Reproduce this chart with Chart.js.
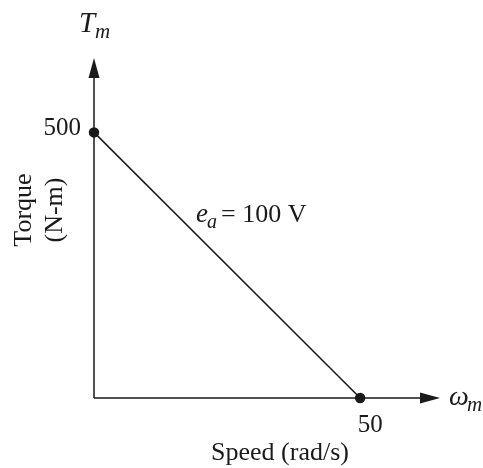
<!DOCTYPE html>
<html lang="en">
<head>
  <meta charset="UTF-8">
  <title>Torque-Speed</title>
  <style>
    html, body { margin: 0; padding: 0; background: #fff; }
    #wrap { width: 483px; height: 468px; }
  </style>
  <script src="https://cdn.jsdelivr.net/npm/chart.js"></script>
</head>
<body>
  <div id="wrap"><canvas id="chart"></canvas></div>
  <script>
    // data
    const speed = [0, 50];        // rad/s
    const torque = [500, 0];      // N-m
    const xTicks = [50];
    const yTicks = [500];
    const lineLabel = '= 100 V';

    const SERIF = '"Liberation Serif", "DejaVu Serif", serif';
    const INK = '#1a1a1a';

    function arrow(ctx, x, y, dir) {
      ctx.beginPath();
      if (dir === 'up') {
        ctx.moveTo(x, y); ctx.lineTo(x - 5.5, y + 20); ctx.lineTo(x + 5.5, y + 20);
      } else {
        ctx.moveTo(x, y); ctx.lineTo(x - 20, y - 5.5); ctx.lineTo(x - 20, y + 5.5);
      }
      ctx.closePath();
      ctx.fill();
    }

    const axesPlugin = {
      id: 'axes',
      beforeDatasetsDraw(chart) {
        const { ctx, chartArea: a, scales: { x, y } } = chart;
        const x0 = x.getPixelForValue(0), y0 = y.getPixelForValue(0);
        ctx.save();
        ctx.strokeStyle = INK; ctx.fillStyle = INK; ctx.lineWidth = 1.5;
        ctx.beginPath();
        ctx.moveTo(x0, y0); ctx.lineTo(x0, a.top + 8);
        ctx.moveTo(x0, y0); ctx.lineTo(a.right - 8, y0);
        ctx.stroke();
        arrow(ctx, x0, a.top, 'up');
        arrow(ctx, a.right, y0, 'right');

        ctx.font = '25px ' + SERIF;
        ctx.textAlign = 'center'; ctx.textBaseline = 'alphabetic';
        xTicks.forEach(v => ctx.fillText(String(v), x.getPixelForValue(v) + 10, y0 + 34));
        ctx.textAlign = 'right';
        yTicks.forEach(v => ctx.fillText(String(v), x0 - 13, y.getPixelForValue(v) + 3));

        // axis titles
        ctx.textAlign = 'center';
        ctx.font = '26px ' + SERIF;
        ctx.fillText('Speed (rad/s)', 280, y0 + 62);
        ctx.save();
        ctx.translate(31, 210);
        ctx.rotate(-Math.PI / 2);
        ctx.fillText('Torque', 0, 0);
        ctx.fillText('(N-m)', 0, 31);
        ctx.restore();

        // symbols
        ctx.textAlign = 'left';
        ctx.font = 'italic 29px ' + SERIF;
        ctx.fillText('T', 79, 32);
        ctx.font = 'italic 21px ' + SERIF;
        ctx.fillText('m', 95, 38);
        ctx.font = 'italic 28px ' + SERIF;
        ctx.fillText('\u03c9', a.right + 9, y0 + 7);
        ctx.font = 'italic 21px ' + SERIF;
        ctx.fillText('m', a.right + 27, y0 + 13);

        // line label
        ctx.font = 'italic 27px ' + SERIF;
        ctx.fillText('e', 196, 222);
        ctx.font = 'italic 20px ' + SERIF;
        ctx.fillText('a', 207, 228);
        ctx.font = '26px ' + SERIF;
        ctx.fillText(lineLabel, 221, 222);
        ctx.restore();
      }
    };

    new Chart(document.getElementById('chart'), {
      type: 'scatter',
      data: {
        datasets: [{
          data: speed.map((s, i) => ({ x: s, y: torque[i] })),
          showLine: true,
          clip: false,
          borderColor: INK,
          borderWidth: 1.5,
          backgroundColor: INK,
          pointRadius: 4.5,
          pointHoverRadius: 4.5
        }]
      },
      options: {
        responsive: true,
        maintainAspectRatio: false,
        animation: false,
        events: [],
        layout: { padding: { left: 94, right: 43, top: 58, bottom: 70 } },
        plugins: { legend: { display: false }, tooltip: { enabled: false } },
        scales: {
          x: { type: 'linear', display: false, min: 0, max: 65 },
          y: { type: 'linear', display: false, min: 0, max: 640 }
        }
      },
      plugins: [axesPlugin]
    });
  </script>
</body>
</html>
